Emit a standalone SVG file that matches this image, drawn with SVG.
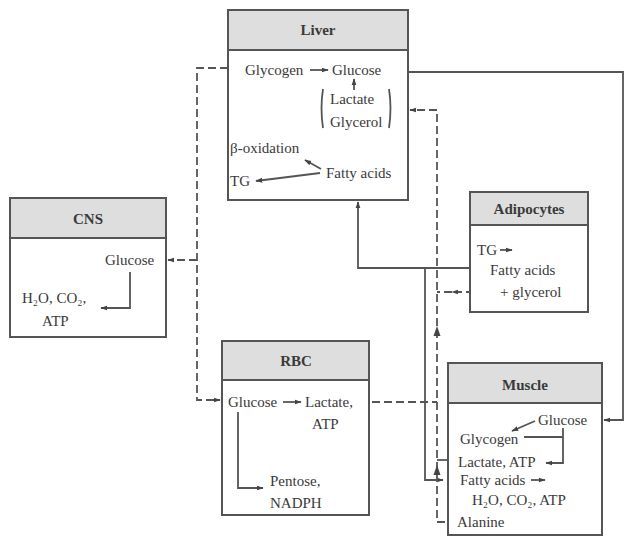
<svg xmlns="http://www.w3.org/2000/svg" width="626" height="540" viewBox="0 0 626 540">
<style>
text{font-family:"Liberation Serif","DejaVu Serif",serif;font-size:15px;fill:#3a3a3a}
.t{font-weight:bold;text-anchor:middle}
.box{fill:#fff;stroke:#555;stroke-width:2}
.hd{fill:#dedede;stroke:#555;stroke-width:2}
.ln{fill:none;stroke:#555;stroke-width:1.8}
.ds{fill:none;stroke:#555;stroke-width:1.8;stroke-dasharray:8 4}
.ah{fill:#444}
</style>
<defs>
<marker id="a" viewBox="0 0 10 10" refX="9" refY="5" markerWidth="7" markerHeight="7" orient="auto" markerUnits="userSpaceOnUse"><path d="M0,1.5 L10,5 L0,8.5 Z" fill="#444"/></marker>
</defs>
<rect width="626" height="540" fill="#fff"/>

<g id="connectors">
<path class="ds" d="M240,68 H197 V400 H220" marker-end="url(#a)"/>
<path class="ds" d="M197,260 H168" marker-end="url(#a)"/>
<path class="ln" d="M408,72 H623 V420 H604" marker-end="url(#a)"/>
<path class="ln" d="M489,268 H358 V202" marker-end="url(#a)"/>
<path class="ln" d="M425,268 V480 H443" marker-end="url(#a)"/>
<path class="ds" d="M445,522 H437 V110 H410" marker-end="url(#a)"/>
<path class="ds" d="M498,292 H452" marker-end="url(#a)"/>
<path class="ds" d="M452,292 H437"/>
<path class="ds" d="M372,402 H437"/>
<path class="ln" d="M447,460 H437"/>
<path class="ah" d="M437,326 L440.5,336 L433.5,336 Z"/>
<path class="ah" d="M437,465 L440.5,475 L433.5,475 Z"/>
</g>

<g id="liver">
<rect class="box" x="228" y="10" width="180" height="190"/>
<rect class="hd" x="228" y="10" width="180" height="40"/>
<text class="t" x="318" y="35">Liver</text>
<text x="245" y="75">Glycogen</text>
<path class="ln" d="M310,70 H328" marker-end="url(#a)"/>
<text x="332" y="75">Glucose</text>
<path class="ln" d="M354,90 V79" marker-end="url(#a)"/>
<path class="ln" d="M323,89 Q320,108 323,128"/>
<path class="ln" d="M389,89 Q392,108 389,128"/>
<text x="330" y="104">Lactate</text>
<text x="330" y="127">Glycerol</text>
<text x="230" y="153">β-oxidation</text>
<text x="326" y="178">Fatty acids</text>
<text x="230" y="186">TG</text>
<path class="ln" d="M321,169 L305,160" marker-end="url(#a)"/>
<path class="ln" d="M320,173 L256,181" marker-end="url(#a)"/>
</g>

<g id="cns">
<rect class="box" x="10" y="198" width="156" height="139"/>
<rect class="hd" x="10" y="198" width="156" height="40"/>
<text class="t" x="88" y="224">CNS</text>
<text x="105" y="265">Glucose</text>
<path class="ln" d="M130,272 V308 H101" marker-end="url(#a)"/>
<text x="22" y="303">H₂O, CO₂,</text>
<text x="42" y="326">ATP</text>
</g>

<g id="adipocytes">
<rect class="box" x="470" y="192" width="118" height="120"/>
<rect class="hd" x="470" y="192" width="118" height="33"/>
<text class="t" x="529" y="214">Adipocytes</text>
<text x="477" y="255">TG</text>
<path class="ln" d="M500,250 H512" marker-end="url(#a)"/>
<text x="490" y="275">Fatty acids</text>
<text x="500" y="297">+ glycerol</text>
</g>

<g id="rbc">
<rect class="box" x="222" y="341" width="147" height="174"/>
<rect class="hd" x="222" y="341" width="147" height="39"/>
<text class="t" x="296" y="366">RBC</text>
<text x="228" y="407">Glucose</text>
<path class="ln" d="M283,402 H301" marker-end="url(#a)"/>
<text x="305" y="407">Lactate,</text>
<text x="312" y="429">ATP</text>
<path class="ln" d="M238,412 V488 H263" marker-end="url(#a)"/>
<text x="270" y="486">Pentose,</text>
<text x="270" y="508">NADPH</text>
</g>

<g id="muscle">
<rect class="box" x="448" y="363" width="154" height="172"/>
<rect class="hd" x="448" y="363" width="154" height="40"/>
<text class="t" x="525" y="390">Muscle</text>
<text x="538" y="425">Glucose</text>
<path class="ln" d="M535,421 L512,431" marker-end="url(#a)"/>
<text x="460" y="444">Glycogen</text>
<path class="ln" d="M524,437 H563"/>
<path class="ln" d="M563,428 V463 H546" marker-end="url(#a)"/>
<text x="458" y="467">Lactate, ATP</text>
<text x="460" y="485">Fatty acids</text>
<path class="ln" d="M531,480 H545" marker-end="url(#a)"/>
<text x="472" y="505">H₂O, CO₂, ATP</text>
<text x="457" y="527">Alanine</text>
</g>
</svg>
